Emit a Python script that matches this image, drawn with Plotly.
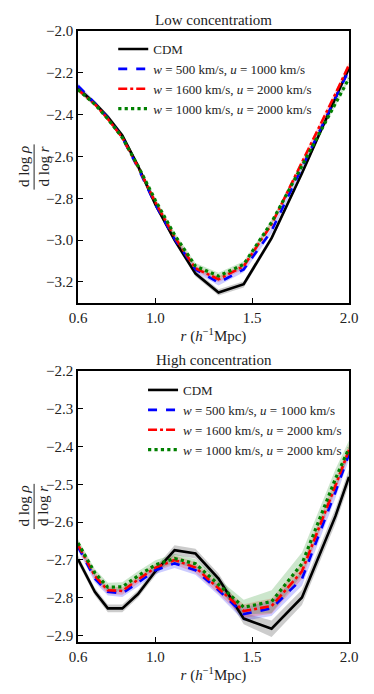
import plotly.graph_objects as go
from plotly.subplots import make_subplots

# radius bins (h^-1 Mpc)
r = [0.6, 0.687, 0.754, 0.829, 0.91, 1.0, 1.099, 1.207, 1.326, 1.456, 1.6, 1.757, 1.93, 2.0]

# low concentration slopes
low_cdm = [-2.275, -2.345, -2.41, -2.50, -2.645, -2.83, -3.0, -3.16, -3.25, -3.211, -2.99, -2.68, -2.32, -2.178]
low_w500 = [-2.262, -2.345, -2.415, -2.51, -2.655, -2.83, -2.995, -3.14, -3.203, -3.14, -2.955, -2.653, -2.32, -2.186]
low_w1600 = [-2.28, -2.35, -2.42, -2.51, -2.65, -2.82, -2.985, -3.135, -3.187, -3.124, -2.925, -2.63, -2.30, -2.162]
low_w1000 = [-2.28, -2.35, -2.42, -2.51, -2.645, -2.81, -2.975, -3.124, -3.172, -3.116, -2.915, -2.645, -2.347, -2.226]
low_err_cdm = [0.012, 0.012, 0.012, 0.012, 0.012, 0.012, 0.013, 0.014, 0.015, 0.015, 0.014, 0.013, 0.012, 0.012]
low_err_w500 = [0.012, 0.01, 0.01, 0.01, 0.01, 0.01, 0.012, 0.013, 0.014, 0.014, 0.013, 0.012, 0.012, 0.012]
low_err_w1600 = [0.012, 0.01, 0.01, 0.01, 0.01, 0.012, 0.012, 0.013, 0.014, 0.014, 0.013, 0.013, 0.013, 0.013]
low_err_w1000 = [0.012, 0.01, 0.01, 0.01, 0.01, 0.012, 0.013, 0.015, 0.016, 0.015, 0.013, 0.012, 0.012, 0.012]

# high concentration slopes
high_cdm = [-2.698, -2.784, -2.828, -2.828, -2.79, -2.73, -2.674, -2.683, -2.749, -2.855, -2.882, -2.799, -2.584, -2.48]
high_w500 = [-2.665, -2.749, -2.784, -2.788, -2.76, -2.727, -2.709, -2.727, -2.78, -2.843, -2.828, -2.75, -2.52, -2.42]
high_w1600 = [-2.66, -2.742, -2.78, -2.782, -2.752, -2.72, -2.70, -2.72, -2.775, -2.835, -2.822, -2.73, -2.503, -2.409]
high_w1000 = [-2.655, -2.734, -2.772, -2.771, -2.742, -2.713, -2.696, -2.71, -2.765, -2.825, -2.81, -2.71, -2.485, -2.404]
high_err_cdm = [0.01, 0.01, 0.01, 0.01, 0.01, 0.011, 0.013, 0.013, 0.013, 0.015, 0.022, 0.02, 0.02, 0.02]
high_err_w500 = [0.01, 0.01, 0.01, 0.01, 0.01, 0.01, 0.012, 0.012, 0.013, 0.018, 0.02, 0.018, 0.016, 0.015]
high_err_w1600 = [0.01, 0.01, 0.01, 0.01, 0.01, 0.01, 0.012, 0.014, 0.014, 0.018, 0.02, 0.02, 0.016, 0.015]
high_err_w1000 = [0.01, 0.01, 0.012, 0.012, 0.012, 0.012, 0.012, 0.012, 0.015, 0.02, 0.03, 0.03, 0.025, 0.02]

labels = ["CDM",
          "<i>w</i> = 500 km/s, <i>u</i> = 1000 km/s",
          "<i>w</i> = 1600 km/s, <i>u</i> = 2000 km/s",
          "<i>w</i> = 1000 km/s, <i>u</i> = 2000 km/s"]
colors = ["black", "blue", "red", "green"]
bands = ["rgba(0,0,0,0.2)", "rgba(0,0,255,0.2)", "rgba(255,0,0,0.2)", "rgba(0,128,0,0.2)"]
dashes = ["solid", "dash", "dashdot", "dot"]
widths = [2.6, 2.6, 2.6, 3.2]

FONT = "Liberation Serif"

fig = make_subplots(rows=2, cols=1)

panels = [
    (1, "legend", [low_cdm, low_w500, low_w1600, low_w1000],
     [low_err_cdm, low_err_w500, low_err_w1600, low_err_w1000]),
    (2, "legend2", [high_cdm, high_w500, high_w1600, high_w1000],
     [high_err_cdm, high_err_w500, high_err_w1600, high_err_w1000]),
]

for row, leg, series, errs in panels:
    # shaded bands
    for ys, es, band in zip(series, errs, bands):
        lo = [y - e for y, e in zip(ys, es)]
        hi = [y + e for y, e in zip(ys, es)]
        fig.add_trace(go.Scatter(x=r, y=lo, mode="lines", line=dict(width=0),
                                 showlegend=False, hoverinfo="skip"), row=row, col=1)
        fig.add_trace(go.Scatter(x=r, y=hi, mode="lines", line=dict(width=0),
                                 fill="tonexty", fillcolor=band,
                                 showlegend=False, hoverinfo="skip"), row=row, col=1)
    for ys, lab, c, d, w in zip(series, labels, colors, dashes, widths):
        fig.add_trace(go.Scatter(x=r, y=ys, mode="lines", name=lab, legend=leg,
                                 line=dict(color=c, dash=d, width=w)), row=row, col=1)

axis_common = dict(showline=True, linecolor="black", linewidth=1.6, mirror=True,
                   ticks="inside", ticklen=5, tickcolor="black", showgrid=False,
                   zeroline=False, tickfont=dict(family=FONT, size=15, color="#222"))

xtitle = dict(text="<i>r</i> (<i>h</i><sup>−1</sup>Mpc)", font=dict(family=FONT, size=15, color="#222"), standoff=4)

fig.update_xaxes(range=[0.6, 2.0], tickvals=[0.6, 1.0, 1.5, 2.0],
                 ticktext=["0.6", "1.0", "1.5", "2.0"], title=xtitle, **axis_common)
fig.update_yaxes(range=[-3.3, -2.0], tickvals=[-2.0, -2.2, -2.4, -2.6, -2.8, -3.0, -3.2],
                 tickformat=".1f", row=1, col=1, **axis_common)
fig.update_yaxes(range=[-2.917, -2.2], dtick=0.1, tick0=-2.2,
                 tickformat=".1f", row=2, col=1, **axis_common)

legend_style = dict(xanchor="left", yanchor="top", bgcolor="rgba(0,0,0,0)",
                    font=dict(family=FONT, size=13, color="#222"),
                    itemwidth=30, tracegroupgap=0, traceorder="normal")

# page body adds an 8px offset, so the figure is 8px smaller than the window
fig.update_layout(
    width=366, height=686,
    margin=dict(l=70, r=25, t=23, b=52),
    plot_bgcolor="white", paper_bgcolor="white",
    xaxis=dict(domain=[0, 1]), yaxis=dict(domain=[0.555, 1.0]),
    xaxis2=dict(domain=[0, 1]), yaxis2=dict(domain=[0.0, 0.4435]),
    legend=dict(x=0.13, y=0.995, **legend_style),
    legend2=dict(x=0.24, y=0.437, **legend_style),
    showlegend=True,
)

# panel titles
for txt, yy in [("Low concentratiom", 1.0), ("High concentration", 0.4435)]:
    fig.add_annotation(text=txt, x=0.5, y=yy, xref="paper", yref="paper",
                       xanchor="center", yanchor="bottom", showarrow=False, yshift=1,
                       font=dict(family=FONT, size=15, color="#222"))

# y-axis fraction labels
for yc in [0.7774, 0.2218]:
    fig.add_annotation(text="d log <i>ρ</i><br>d log <i>r</i>", x=-0.162, y=yc,
                       xref="paper", yref="paper", textangle=-90, showarrow=False,
                       xanchor="center", yanchor="middle",
                       font=dict(family=FONT, size=15, color="#222"))
    fig.add_shape(type="line", xref="paper", yref="paper", x0=-0.162, x1=-0.162,
                  y0=yc - 0.037, y1=yc + 0.037, line=dict(color="#222", width=1))

fig.write_html("out.html")
